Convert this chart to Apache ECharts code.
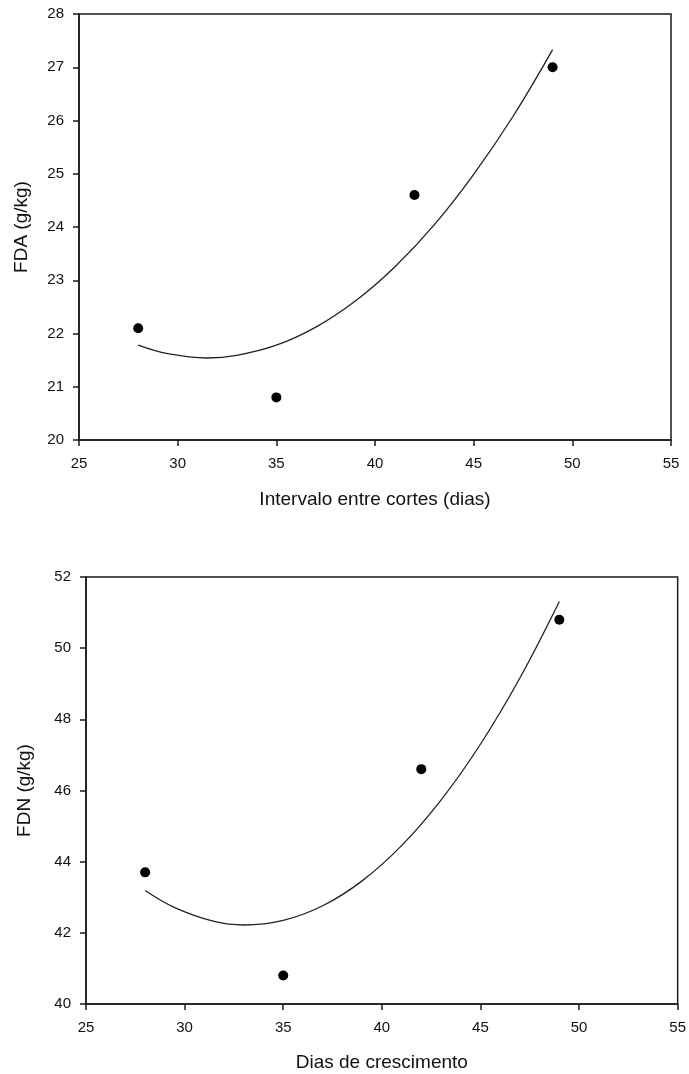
<!DOCTYPE html>
<html>
<head>
<meta charset="utf-8">
<script src="https://cdn.jsdelivr.net/npm/echarts@6/dist/echarts.min.js"></script>
<style>
  html, body { margin: 0; padding: 0; background: #fff; }
  #chart { width: 689px; height: 1074px; }
</style>
</head>
<body>
<div id="chart"></div>
<script>
// pontos observados
const diasX = [28, 35, 42, 49];
const fdaY = [22.1, 20.8, 24.6, 27.0];
const fdnY = [43.7, 40.8, 46.6, 50.8];

// curva ajustada
const curvaX = [28, 29.5, 31.5, 33, 35, 37, 39, 41, 43, 45, 47, 49];
const fdaCurva = [21.78, 21.62, 21.54, 21.59, 21.78, 22.12, 22.61, 23.25, 24.04, 24.99, 26.08, 27.33];
const fdnCurva = [43.19, 42.71, 42.32, 42.22, 42.35, 42.76, 43.46, 44.45, 45.73, 47.30, 49.16, 51.31];

const fontFam = 'Liberation Sans, Arial, sans-serif';
const axisColor = '#1a1a1a';

function pares(xs, ys) {
    return xs.map((x, i) => [x, ys[i]]);
}

function eixoX(gridIndex, nome, gap) {
    return {
        gridIndex: gridIndex,
        type: 'value',
        min: 25,
        max: 55,
        interval: 5,
        name: nome,
        nameLocation: 'middle',
        nameGap: gap,
        nameTextStyle: { fontFamily: fontFam, fontSize: 19, color: '#111' },
        axisLine: { show: true, onZero: false, lineStyle: { color: axisColor, width: 1.5 } },
        axisTick: { show: true, inside: false, length: 6, lineStyle: { color: axisColor, width: 1.5 } },
        axisLabel: { margin: 16, fontFamily: fontFam, fontSize: 15, color: '#111' },
        splitLine: { show: false },
    };
}

function eixoY(gridIndex, nome, min, max, step, gap) {
    return {
        gridIndex: gridIndex,
        type: 'value',
        min: min,
        max: max,
        interval: step,
        name: nome,
        nameLocation: 'middle',
        nameGap: gap,
        nameTextStyle: { fontFamily: fontFam, fontSize: 19, color: '#111' },
        axisLine: { show: true, onZero: false, lineStyle: { color: axisColor, width: 1.5 } },
        axisTick: { show: true, inside: false, length: 6, lineStyle: { color: axisColor, width: 1.5 } },
        axisLabel: { margin: 15, fontFamily: fontFam, fontSize: 15, color: '#111' },
        splitLine: { show: false },
    };
}

let chart = echarts.init(document.getElementById('chart'), null, { renderer: 'canvas' });
let option = {
    animation: false,
    backgroundColor: '#fff',
    grid: [{
        show: true,
        left: 79,
        top: 14,
        width: 592,
        height: 426,
        borderColor: axisColor,
        borderWidth: 1.5,
        backgroundColor: 'transparent',
    }, {
        show: true,
        left: 86,
        top: 577,
        width: 594,
        height: 427,
        borderColor: axisColor,
        borderWidth: 1.5,
        backgroundColor: 'transparent',
    }],
    xAxis: [
        eixoX(0, 'Intervalo entre cortes (dias)', 50),
        eixoX(1, 'Dias de crescimento', 49),
    ],
    yAxis: [
        eixoY(0, 'FDA (g/kg)', 20, 28, 1, 48),
        eixoY(1, 'FDN (g/kg)', 40, 52, 2, 52),
    ],
    series: [
        {
            type: 'line',
            xAxisIndex: 0,
            yAxisIndex: 0,
            data: pares(curvaX, fdaCurva),
            smooth: 0.4,
            showSymbol: false,
            lineStyle: { color: '#222', width: 1.3 },
        },
        {
            type: 'scatter',
            xAxisIndex: 0,
            yAxisIndex: 0,
            data: pares(diasX, fdaY),
            symbolSize: 10,
            itemStyle: { color: '#000', opacity: 1 },
        },
        {
            type: 'line',
            xAxisIndex: 1,
            yAxisIndex: 1,
            data: pares(curvaX, fdnCurva),
            smooth: 0.4,
            showSymbol: false,
            lineStyle: { color: '#222', width: 1.3 },
        },
        {
            type: 'scatter',
            xAxisIndex: 1,
            yAxisIndex: 1,
            data: pares(diasX, fdnY),
            symbolSize: 10,
            itemStyle: { color: '#000', opacity: 1 },
        },
    ],
};
chart.setOption(option);
</script>
</body>
</html>
